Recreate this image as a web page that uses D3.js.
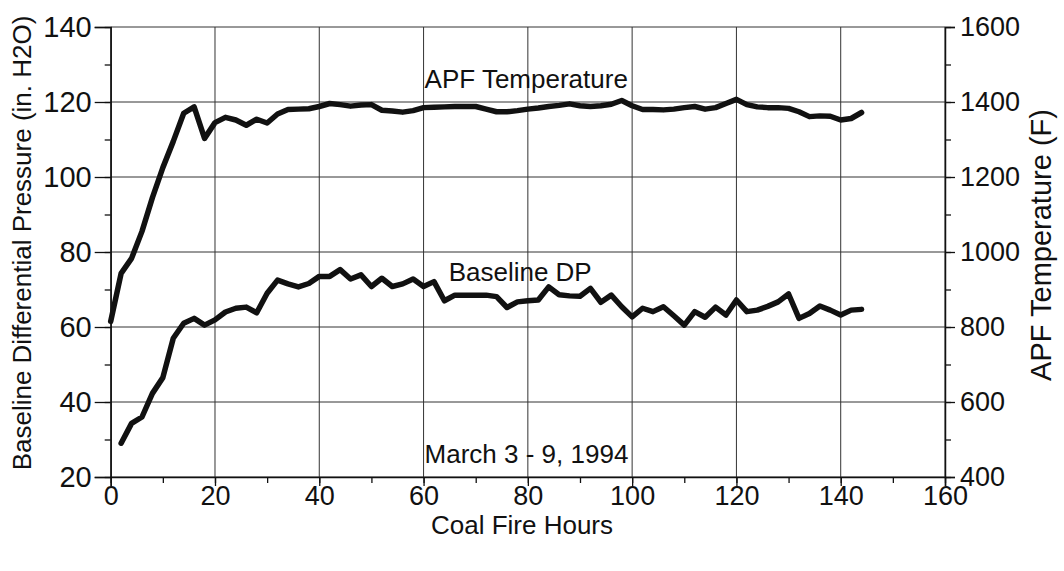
<!DOCTYPE html>
<html>
<head>
<meta charset="utf-8">
<script src="https://cdn.jsdelivr.net/npm/d3@7"></script>
<style>
  html, body { margin: 0; padding: 0; background: #fff; }
  svg { display: block; font-family: "Liberation Sans", Arial, Helvetica, sans-serif; }
</style>
</head>
<body>
<svg id="chart" width="1064" height="571"></svg>
<script>
// ---- data ----
const tempHours = [0,2,4,6,8,10,12,14,16,18,20,22,24,26,28,30,32,34,36,38,40,42,44,46,48,50,52,54,56,58,60,62,64,66,68,70,72,74,76,78,80,82,84,86,88,90,92,94,96,98,100,102,104,106,108,110,112,114,116,118,120,122,124,126,128,130,132,134,136,138,140,142,144];
const tempValues = [815,943,983,1055,1145,1225,1295,1370,1387,1303,1345,1359,1352,1338,1354,1344,1368,1380,1381,1382,1388,1396,1393,1389,1392,1393,1378,1376,1373,1377,1385,1386,1387,1388,1388,1388,1381,1374,1374,1377,1381,1384,1388,1391,1395,1390,1388,1390,1394,1404,1390,1380,1380,1379,1381,1385,1388,1381,1385,1396,1407,1393,1387,1385,1385,1383,1374,1361,1363,1362,1352,1356,1372];

const dpHours = [2,4,6,8,10,12,14,16,18,20,22,24,26,28,30,32,34,36,38,40,42,44,46,48,50,52,54,56,58,60,62,64,66,68,70,72,74,76,78,80,82,84,86,88,90,92,94,96,98,100,102,104,106,108,110,112,114,116,118,120,122,124,126,128,130,132,134,136,138,140,142,144];
const dpValues = [29,34.3,36,42.3,46.5,57,61,62.3,60.5,61.9,64,65,65.3,63.8,69,72.5,71.5,70.7,71.6,73.5,73.5,75.3,72.8,73.9,70.8,73,70.8,71.5,72.8,70.8,72.1,67,68.5,68.5,68.5,68.5,68.1,65.2,66.7,67,67.2,70.7,68.6,68.3,68.2,70.3,66.6,68.5,65.4,62.7,65,64.1,65.4,63,60.5,64.1,62.6,65.3,63.2,67.2,64.1,64.5,65.5,66.7,68.8,62.3,63.6,65.6,64.5,63.2,64.5,64.7];

const xTicks = [0,20,40,60,80,100,120,140,160];
const leftTicks = [20,40,60,80,100,120,140];
const rightTicks = [400,600,800,1000,1200,1400,1600];

const xTitle = "Coal Fire Hours";
const leftTitle = "Baseline Differential Pressure (in. H2O)";
const rightTitle = "APF Temperature (F)";
const annotTemp = "APF Temperature";
const annotDP = "Baseline DP";
const annotDate = "March 3 - 9, 1994";

// ---- layout ----
const W = 1064, H = 571;
const m = {left: 110.7, right: 119, top: 27, bottom: 94};
const svg = d3.select("#chart");
const x = d3.scaleLinear().domain([0,160]).range([m.left, W - m.right]);
const yL = d3.scaleLinear().domain([20,140]).range([H - m.bottom, m.top]);
const yR = d3.scaleLinear().domain([400,1600]).range([H - m.bottom, m.top]);
const ink = "#111";
const fsTick = 27;
const fsLeftTick = 29;
const fs = 26;

// grid
const grid = svg.append("g").attr("stroke", "#333").attr("stroke-width", 1);
grid.selectAll(".gh").data(leftTicks).join("line")
  .attr("x1", m.left).attr("x2", W - m.right)
  .attr("y1", d => yL(d)).attr("y2", d => yL(d));
grid.selectAll(".gv").data(xTicks).join("line")
  .attr("x1", d => x(d)).attr("x2", d => x(d))
  .attr("y1", m.top).attr("y2", H - m.bottom);

// axes
const minorX = d3.range(0, 161, 10);
const minorL = d3.range(20, 141, 10);
const minorR = d3.range(400, 1601, 100);

const gx = svg.append("g").attr("transform", `translate(0,${H - m.bottom})`)
  .call(d3.axisBottom(x).tickValues(minorX).tickSize(6).tickFormat(""));
gx.select(".domain").remove();
const gx2 = svg.append("g").attr("transform", `translate(0,${H - m.bottom})`)
  .call(d3.axisBottom(x).tickValues(xTicks).tickSize(9).tickPadding(0).tickFormat(d3.format("d")));

const gl = svg.append("g").attr("transform", `translate(${m.left},0)`)
  .call(d3.axisLeft(yL).tickValues(minorL).tickSize(6).tickFormat(""));
gl.select(".domain").remove();
const gl2 = svg.append("g").attr("transform", `translate(${m.left},0)`)
  .call(d3.axisLeft(yL).tickValues(leftTicks).tickSize(16).tickPadding(3).tickFormat(d3.format("d")));

const gr = svg.append("g").attr("transform", `translate(${W - m.right},0)`)
  .call(d3.axisRight(yR).tickValues(minorR).tickSize(6).tickFormat(""));
gr.select(".domain").remove();
const gr2 = svg.append("g").attr("transform", `translate(${W - m.right},0)`)
  .call(d3.axisRight(yR).tickValues(rightTicks).tickSize(10).tickPadding(5).tickFormat(d3.format("d")));

svg.selectAll(".domain").attr("stroke", ink).attr("stroke-width", 1.5);
svg.selectAll(".tick line").attr("stroke", ink).attr("stroke-width", 1.3);
svg.selectAll(".tick text").attr("fill", ink).attr("font-size", fsTick)
  .attr("font-family", "'Liberation Sans', Arial, sans-serif");
gl2.selectAll(".tick text").attr("font-size", fsLeftTick);

// lines
const lineT = d3.line().x((d,i) => x(tempHours[i])).y(d => yR(d));
const lineD = d3.line().x((d,i) => x(dpHours[i])).y(d => yL(d));
svg.append("path").datum(tempValues).attr("d", lineT)
  .attr("fill", "none").attr("stroke", ink).attr("stroke-width", 5.5)
  .attr("stroke-linejoin", "round").attr("stroke-linecap", "round");
svg.append("path").datum(dpValues).attr("d", lineD)
  .attr("fill", "none").attr("stroke", ink).attr("stroke-width", 5.5)
  .attr("stroke-linejoin", "round").attr("stroke-linecap", "round");

// annotations
const txt = (s, px, py, anchor) => svg.append("text").text(s)
  .attr("x", px).attr("y", py).attr("text-anchor", anchor || "start")
  .attr("font-size", fs).attr("fill", ink);
txt(annotTemp, x(60) + 1, 88);
txt(annotDP, x(65) - 1, 281);
txt(annotDate, x(60) + 1, 463);

// titles
txt(xTitle, 522, 534, "middle");
svg.append("text").text(leftTitle)
  .attr("transform", `translate(31,${(m.top + H - m.bottom)/2 - 9}) rotate(-90)`)
  .attr("text-anchor", "middle").attr("font-size", fs).attr("fill", ink);
svg.append("text").text(rightTitle)
  .attr("transform", `translate(1051,245) rotate(-90)`)
  .attr("text-anchor", "middle").attr("font-size", 29).attr("fill", ink);
</script>
</body>
</html>
